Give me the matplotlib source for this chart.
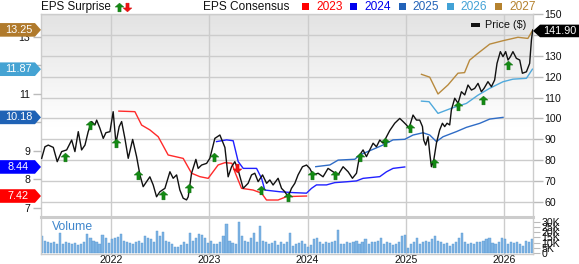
import numpy as np
import matplotlib
matplotlib.use("Agg")
import matplotlib.pyplot as plt
from matplotlib.path import Path
from matplotlib.patches import Polygon, Rectangle
from matplotlib.lines import Line2D
from matplotlib.transforms import IdentityTransform

plt.rcParams['font.family'] = ['Liberation Sans', 'DejaVu Sans']

# ---------------- data ----------------
price_t = [2021.296, 2021.329, 2021.363, 2021.414, 2021.454, 2021.499, 2021.550, 2021.601, 2021.634, 2021.668,
           2021.702, 2021.736, 2021.769, 2021.804, 2021.837, 2021.855, 2021.888, 2021.922, 2021.949, 2021.990,
           2022.023, 2022.051, 2022.084, 2022.109, 2022.142, 2022.176, 2022.221, 2022.261, 2022.295, 2022.328,
           2022.363, 2022.396, 2022.430, 2022.464, 2022.498, 2022.549, 2022.600, 2022.633, 2022.668, 2022.701,
           2022.735, 2022.769, 2022.786, 2022.820, 2022.864, 2022.887, 2022.922, 2022.973, 2023.006, 2023.057,
           2023.108, 2023.141, 2023.159, 2023.192, 2023.227, 2023.260, 2023.294, 2023.345, 2023.395, 2023.430,
           2023.463, 2023.497, 2023.542, 2023.583, 2023.616, 2023.649, 2023.700, 2023.735, 2023.768, 2023.802,
           2023.836, 2023.870, 2023.903, 2023.948, 2023.989, 2024.022, 2024.056, 2024.107, 2024.157, 2024.208,
           2024.259, 2024.310, 2024.361, 2024.412, 2024.456, 2024.497, 2024.530, 2024.564, 2024.598, 2024.632,
           2024.666, 2024.700, 2024.734, 2024.768, 2024.802, 2024.835, 2024.886, 2024.937, 2024.971, 2025.005,
           2025.031, 2025.072, 2025.107, 2025.140, 2025.168, 2025.181, 2025.201, 2025.225, 2025.242, 2025.259,
           2025.283, 2025.310, 2025.343, 2025.371, 2025.394, 2025.418, 2025.445, 2025.462, 2025.496, 2025.530,
           2025.564, 2025.598, 2025.631, 2025.666, 2025.699, 2025.733, 2025.767, 2025.794, 2025.834, 2025.869,
           2025.902, 2025.926, 2025.960, 2025.987, 2026.014, 2026.038, 2026.062, 2026.088, 2026.123, 2026.157,
           2026.184, 2026.225, 2026.258, 2026.276, 2026.289]
price_v = [80.8, 86.3, 87.1, 86.0, 79.2, 84.0, 84.8, 89.5, 84.0, 93.5,
           84.8, 87.1, 93.5, 98.3, 96.7, 99.0, 95.1, 90.3, 93.0, 93.5,
           103.0, 88.0, 95.9, 98.3, 90.3, 80.8, 89.8, 81.6, 72.9, 67.3,
           69.7, 72.0, 68.1, 62.5, 64.9, 66.5, 74.4, 71.3, 72.9, 65.7,
           61.8, 61.0, 62.5, 73.7, 80.3, 76.0, 77.6, 78.4, 80.8, 90.3,
           91.9, 88.0, 86.0, 72.0, 76.8, 79.2, 75.2, 66.5, 68.9, 72.9,
           73.7, 69.7, 72.9, 68.9, 70.5, 68.1, 71.3, 66.5, 64.9, 62.5,
           66.5, 68.9, 72.9, 76.8, 77.6, 76.0, 72.9, 73.7, 72.0, 76.0,
           74.4, 72.9, 76.8, 74.4, 71.3, 73.7, 82.4, 84.8, 81.6, 84.8,
           88.0, 86.3, 89.5, 88.0, 91.1, 94.0, 97.5, 99.8, 98.3, 96.7,
           95.1, 101.4, 99.0, 99.0, 95.9, 89.5, 87.1, 91.1, 83.2, 76.8,
           80.0, 88.0, 94.3, 97.5, 95.9, 97.5, 96.7, 103.8, 109.4, 107.0,
           112.5, 111.0, 115.7, 113.3, 114.1, 116.5, 112.5, 114.1, 117.3, 114.9,
           118.1, 126.0, 131.6, 129.2, 131.6, 127.6, 129.2, 131.6, 128.4, 127.6,
           121.3, 122.0, 126.0, 137.1, 141.9]

cons_2023_t = [2022.081, 2022.244, 2022.312, 2022.396, 2022.481, 2022.582, 2022.735, 2022.820, 2022.904, 2022.989,
               2023.090, 2023.159, 2023.230, 2023.260, 2023.328, 2023.446, 2023.532, 2023.582, 2023.700, 2023.786, 2023.989]
cons_2023_v = [10.40, 10.38, 9.91, 9.74, 9.50, 8.86, 8.74, 8.22, 8.10, 8.04,
               8.51, 8.59, 8.57, 8.27, 7.69, 7.63, 7.52, 7.28, 7.28, 7.40, 7.42]
cons_2024_t = [2023.074, 2023.176, 2023.243, 2023.294, 2023.345, 2023.481, 2023.532, 2023.565, 2023.717, 2023.853,
               2023.989, 2024.040, 2024.090, 2024.192, 2024.276, 2024.395, 2024.497, 2024.564, 2024.734, 2024.802,
               2024.869, 2024.988]
cons_2024_v = [9.33, 9.39, 9.36, 8.63, 8.39, 8.39, 8.04, 7.63, 7.57, 7.54,
               7.52, 7.69, 7.81, 7.81, 7.89, 7.92, 7.95, 8.04, 8.10, 8.27,
               8.39, 8.44]
cons_2025_t = [2024.083, 2024.226, 2024.310, 2024.480, 2024.530, 2024.666, 2024.767, 2024.869, 2024.988, 2025.072,
               2025.174, 2025.242, 2025.310, 2025.377, 2025.513, 2025.615, 2025.750, 2025.852, 2025.987]
cons_2025_v = [8.45, 8.51, 8.68, 8.71, 8.86, 9.06, 9.21, 9.39, 9.41, 9.56,
               9.64, 9.56, 9.33, 9.50, 9.68, 9.83, 9.97, 10.12, 10.18]
cons_2026_t = [2025.158, 2025.235, 2025.326, 2025.462, 2025.615, 2025.733, 2025.852, 2025.987, 2026.088, 2026.225, 2026.286]
cons_2026_v = [10.75, 10.73, 10.32, 10.50, 10.67, 10.96, 11.20, 11.43, 11.52, 11.55, 11.87]
cons_2027_t = [2025.158, 2025.242, 2025.326, 2025.428, 2025.529, 2025.596, 2025.648, 2025.733, 2025.852, 2025.987,
               2026.139, 2026.240, 2026.291]
cons_2027_v = [11.69, 11.59, 11.00, 11.32, 11.73, 11.75, 12.19, 12.43, 12.75, 12.87, 12.99, 12.95, 13.25]

surprise_t = [2021.533, 2021.787, 2022.051, 2022.277, 2022.532, 2022.793, 2023.047, 2023.277, 2023.531, 2023.796,
              2024.040, 2024.276, 2024.530, 2024.785, 2025.039, 2025.286, 2025.529, 2025.784, 2026.038]
surprise_p = [81.6, 96.7, 88.2, 72.9, 63.3, 66.5, 81.6, 76.0, 65.7, 62.5,
              72.9, 72.9, 81.6, 88.7, 95.1, 78.4, 105.7, 108.6, 125.2]
surprise_dir = ['up', 'up', 'up', 'up', 'up', 'up', 'up', 'down', 'up', 'up',
                'up', 'up', 'up', 'up', 'up', 'up', 'up', 'up', 'up']

volume_k = [16, 12, 11, 10, 11, 9, 19, 9, 11, 10,
            9, 10, 8, 9, 11, 18, 14, 12, 11, 9,
            17, 14, 10, 13, 14, 15, 18, 12, 11, 10,
            9, 11, 12, 10, 16, 14, 13, 11, 21, 16,
            20, 12, 11, 9, 6, 6, 8, 11, 9, 19,
            12, 14, 18, 17, 14, 10, 12, 9, 9, 11,
            16, 28, 12, 10, 9, 30, 16, 12, 11, 14,
            19, 11, 26, 12, 11, 9, 10, 12, 8, 11,
            9, 11, 19, 7, 9, 10, 12, 9, 6, 8,
            13, 14, 11, 9, 11, 10, 11, 12, 22, 9,
            9, 11, 10, 11, 12, 9, 11, 13, 9, 11,
            11, 12, 14, 9, 11, 10, 8, 9, 11, 16,
            17, 5, 9, 11, 14, 9, 11, 12, 11, 13,
            16, 12, 11, 9, 10, 7, 9, 11, 14, 19,
            11, 9, 10, 9, 11, 11, 12, 13, 14, 10,
            9, 11, 14, 13, 9, 11, 10, 11, 9, 7, 12, 11, 13]
volume_start, volume_end = 2021.30, 2026.28

years = [2022, 2023, 2024, 2025, 2026]
year_labels = ['2022', '2023', '2024', '2025', '2026']
price_ticks = [60, 70, 80, 90, 100, 110, 120, 130, 140, 150]
price_tick_labels = ['60', '70', '80', '90', '100', '110', '120', '130', '', '150']
eps_ticks = [7, 8, 9, 10, 11, 12, 13]
eps_tick_labels = ['7', '8', '9', '', '11', '', '13']
vol_ticks = [0, 5, 10, 15, 20, 25, 30]
vol_tick_labels = ['0', '5K', '10K', '15K', '20K', '25K', '30K']

legend_years = ['2023', '2024', '2025', '2026', '2027']
legend_colors = ['#ff0000', '#0000ee', '#2262b8', '#42a2d6', '#b5822e']
line_colors = ['#ff2a2a', '#2020ff', '#2f6cc6', '#4fa9dc', '#b88a3e']
badge_vals = [13.25, 11.87, 10.18, 8.44, 7.42]
badge_colors = ['#b07a2c', '#45a3d3', '#1f62b5', '#0000ff', '#ff0000']
last_price = 141.90

# ---------------- layout ----------------
W, H = 579, 264
fig = plt.figure(figsize=(W / 100, H / 100), dpi=100)
fig.patch.set_facecolor('white')

ax = fig.add_axes([41 / W, 1 - 217 / H, 492 / W, 203 / H])
axv = fig.add_axes([41 / W, 1 - 254 / H, 492 / W, 37 / H], sharex=ax)
ae = ax.twinx()
atop = ax.twinx()

XL = (2021.289, 2026.292)
PL = (52.86, 149.52)
EL = (6.684, 13.807)
ax.set_xlim(*XL)
ax.set_ylim(*PL)
ae.set_ylim(*EL)
atop.set_ylim(*PL)

gridc = '#cccccc'
# background gradient
n = 200
tt = np.linspace(0, 1, n)[:, None]
top = np.array([0.89, 0.89, 0.89])
frac = np.clip(tt / 0.55, 0, 1)
grad = top[None, None, :] + (1 - top)[None, None, :] * frac[:, :, None]
grad = np.repeat(grad, 2, axis=1)
ax.imshow(grad, extent=[XL[0], XL[1], PL[0], PL[1]], aspect='auto', zorder=0, origin='upper')

ax.set_yticks(price_ticks)
ax.set_yticklabels(price_tick_labels)
ax.yaxis.tick_right()
ax.tick_params(axis='y', length=7, width=1, color='#bbbbbb', labelsize=7.6, pad=1, labelcolor='#111111')
ax.grid(True, axis='y', color=gridc, lw=1, zorder=1)
for yr in years:
    ax.axvline(yr, color=gridc, lw=1, zorder=1)
    axv.axvline(yr, color=gridc, lw=1, zorder=0)
ax.tick_params(axis='x', bottom=False, labelbottom=False)
for s in ax.spines.values():
    s.set_color(gridc)
    s.set_linewidth(1)

# EPS axis (left)
ae.set_yticks(eps_ticks)
ae.set_yticklabels(eps_tick_labels)
ae.yaxis.tick_left()
ae.tick_params(axis='y', length=6, width=1, color='#bbbbbb', labelsize=7.6, pad=2, labelcolor='#111111')
for s in ae.spines.values():
    s.set_visible(False)
cons = [(cons_2023_t, cons_2023_v), (cons_2024_t, cons_2024_v), (cons_2025_t, cons_2025_v),
        (cons_2026_t, cons_2026_v), (cons_2027_t, cons_2027_v)]
for (t, v), c in zip(cons, line_colors):
    ae.plot(t, v, color=c, lw=1.0, zorder=3)

# price line and surprise arrows
atop.axis('off')
atop.plot(price_t, price_v, color='#111111', lw=1.0, zorder=4)
up_path = Path([(-0.5, 0.05), (0, 0.5), (0.5, 0.05), (0.18, 0.05), (0.18, -0.5), (-0.18, -0.5), (-0.18, 0.05), (-0.5, 0.05)],
               [Path.MOVETO] + [Path.LINETO] * 6 + [Path.CLOSEPOLY])
dn_path = Path([(x, -y) for x, y in up_path.vertices], up_path.codes)
for t, p, d in zip(surprise_t, surprise_p, surprise_dir):
    if d == 'up':
        atop.plot([t], [p], marker=up_path, ms=6.3, color='#138a13', mec='#0c6a0c', mew=0.3, zorder=5)
    else:
        atop.plot([t], [p], marker=dn_path, ms=6.3, color='#ee1111', mec='#cc0000', mew=0.3, zorder=5)

# volume panel
vol_t = np.linspace(volume_start, volume_end, len(volume_k))
bw = (volume_end - volume_start) / len(volume_k) * 0.7
axv.bar(vol_t, volume_k, width=bw, color='#7fb4e3', edgecolor='#5797d3', lw=0.3, zorder=2)
axv.set_ylim(-0.96, 34.6)
axv.set_yticks(vol_ticks)
axv.set_yticklabels(vol_tick_labels)
axv.yaxis.tick_right()
axv.tick_params(axis='y', length=5, width=0.8, color='#bbbbbb', labelsize=7.6, pad=1, labelcolor='#111111')
axv.set_xticks(years)
axv.set_xticklabels(year_labels)
axv.tick_params(axis='x', length=0, labelsize=7.6, pad=0.5, labelcolor='#111111')
for s in axv.spines.values():
    s.set_color(gridc)
    s.set_linewidth(1)
axv.spines['top'].set_linewidth(2.2)
axv.text(0.022, 0.72, 'Volume', transform=axv.transAxes, fontsize=8.8, color='#3f86cc', va='center', ha='left')
axv.set_xlim(*XL)

# ---------------- badges ----------------
fig.canvas.draw()
ident = IdentityTransform()
for v, c in zip(badge_vals, badge_colors):
    y = ae.transData.transform((XL[0], v))[1]
    hh = 6.8
    poly = Polygon([(0, y - hh), (35, y - hh), (41, y), (35, y + hh), (0, y + hh)], closed=True,
                   facecolor=c, edgecolor='none', transform=ident, zorder=10)
    fig.add_artist(poly)
    fig.text(18.5 / W, y / H, f'{v:.2f}', color='white', fontsize=7.8, ha='center', va='center', zorder=11)

yp = ax.transData.transform((XL[1], last_price))[1]
hh = 6.3
poly = Polygon([(533, yp), (540, yp - hh), (579, yp - hh), (579, yp + hh), (540, yp + hh)], closed=True,
               facecolor='#000000', edgecolor='none', transform=ident, zorder=10)
fig.add_artist(poly)
fig.text(559.5 / W, yp / H, f'{last_price:.2f}', color='white', fontsize=7.8, ha='center', va='center', zorder=11)

# ---------------- legend texts ----------------
def fxy(px, py):
    return px / W, 1 - py / H

fig.text(*fxy(41, 7), 'EPS Surprise', fontsize=8.4, ha='left', va='center', color='#111111')
fig.add_artist(Line2D([118.5 / W], [1 - 7 / H], marker=up_path, ms=6.3, color='#138a13', mec='#0c6a0c', mew=0.3,
                      transform=fig.transFigure))
fig.add_artist(Line2D([126.5 / W], [1 - 7 / H], marker=dn_path, ms=6.3, color='#ee1111', mec='#cc0000', mew=0.3,
                      transform=fig.transFigure))
fig.text(*fxy(203, 7), 'EPS Consensus', fontsize=8.6, ha='left', va='center', color='#111111')
for i, (lab, c) in enumerate(zip(legend_years, legend_colors)):
    sx = 302 + i * 48.3
    fig.add_artist(Rectangle(fxy(sx, 10), 7 / W, 7 / H, transform=fig.transFigure, facecolor=c, edgecolor='none'))
    fig.text(*fxy(sx + 14, 7), lab, fontsize=8.6, ha='left', va='center', color=c)

fig.add_artist(Rectangle(fxy(471, 27), 9 / W, 4 / H, transform=fig.transFigure, facecolor='#111111', edgecolor='none'))
fig.text(*fxy(485, 25.5), 'Price ($)', fontsize=7.8, ha='left', va='center', color='#111111')

fig.savefig('out.png', dpi=100)
